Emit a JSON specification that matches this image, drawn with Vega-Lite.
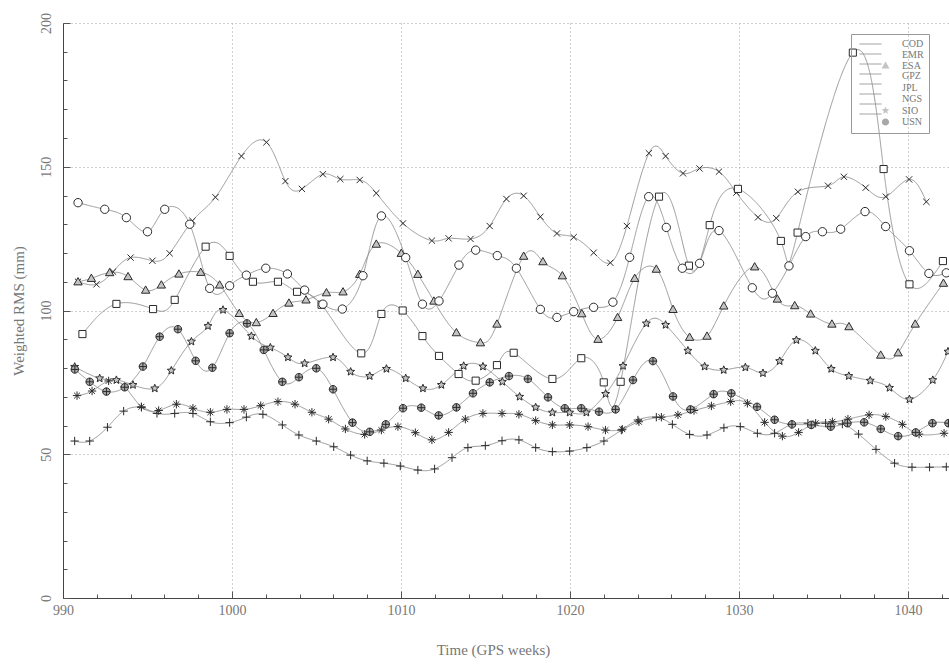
{
"$schema": "https://vega.github.io/schema/vega-lite/v6.json",
"width": 886, "height": 575,
"autosize": {"type": "none"},
"padding": {"left": 63, "top": 23, "right": 0, "bottom": 68},
"background": "white",
"config": {"view": {"stroke": null}, "font": "Liberation Serif"},
"datasets": {
"d": [
{"s":"COD","w":990.69,"v":54.6},{"s":"COD","w":991.58,"v":54.6},{"s":"COD","w":992.63,"v":59.4},{"s":"COD","w":993.59,"v":65.0},{"s":"COD","w":994.64,"v":66.3},{"s":"COD","w":995.56,"v":64.2},{"s":"COD","w":996.61,"v":64.2},{"s":"COD","w":997.69,"v":64.2},{"s":"COD","w":998.72,"v":61.3},{"s":"COD","w":999.86,"v":61.0},{"s":"COD","w":1000.85,"v":62.9},{"s":"COD","w":1001.83,"v":63.9},{"s":"COD","w":1002.98,"v":60.2},{"s":"COD","w":1003.96,"v":56.7},{"s":"COD","w":1004.99,"v":54.6},{"s":"COD","w":1006.02,"v":52.6},{"s":"COD","w":1007.02,"v":49.7},{"s":"COD","w":1008.0,"v":47.7},{"s":"COD","w":1008.99,"v":46.9},{"s":"COD","w":1009.96,"v":45.9},{"s":"COD","w":1011.0,"v":44.5},{"s":"COD","w":1011.99,"v":44.9},{"s":"COD","w":1013.02,"v":48.8},{"s":"COD","w":1013.96,"v":52.3},{"s":"COD","w":1014.99,"v":53.0},{"s":"COD","w":1015.98,"v":54.7},{"s":"COD","w":1016.98,"v":55.0},{"s":"COD","w":1017.97,"v":52.3},{"s":"COD","w":1018.96,"v":50.9},{"s":"COD","w":1019.98,"v":51.1},{"s":"COD","w":1021.0,"v":52.3},{"s":"COD","w":1022.01,"v":54.6},{"s":"COD","w":1023.04,"v":58.4},{"s":"COD","w":1024.02,"v":61.9},{"s":"COD","w":1025.11,"v":62.9},{"s":"COD","w":1026.06,"v":60.4},{"s":"COD","w":1027.08,"v":56.9},{"s":"COD","w":1028.11,"v":56.7},{"s":"COD","w":1029.11,"v":59.2},{"s":"COD","w":1030.08,"v":59.6},{"s":"COD","w":1031.09,"v":57.3},{"s":"COD","w":1032.11,"v":57.3},{"s":"COD","w":1033.1,"v":60.4},{"s":"COD","w":1034.08,"v":60.8},{"s":"COD","w":1035.13,"v":60.8},{"s":"COD","w":1036.12,"v":60.5},{"s":"COD","w":1037.08,"v":57.0},{"s":"COD","w":1038.11,"v":51.7},{"s":"COD","w":1039.21,"v":46.9},{"s":"COD","w":1040.24,"v":45.5},{"s":"COD","w":1041.28,"v":45.5},{"s":"COD","w":1042.27,"v":45.6},

{"s":"EMR","w":990.89,"v":110.0},{"s":"EMR","w":991.98,"v":109.1},{"s":"EMR","w":992.96,"v":113.5},{"s":"EMR","w":994.0,"v":118.4},{"s":"EMR","w":995.29,"v":117.3},{"s":"EMR","w":996.31,"v":119.9},{"s":"EMR","w":997.66,"v":131.2},{"s":"EMR","w":999.02,"v":139.4},{"s":"EMR","w":1000.56,"v":153.7},{"s":"EMR","w":1002.04,"v":158.5},{"s":"EMR","w":1003.16,"v":145.0},{"s":"EMR","w":1004.14,"v":142.3},{"s":"EMR","w":1005.38,"v":147.4},{"s":"EMR","w":1006.41,"v":145.7},{"s":"EMR","w":1007.56,"v":145.4},{"s":"EMR","w":1008.54,"v":140.8},{"s":"EMR","w":1010.12,"v":130.3},{"s":"EMR","w":1011.83,"v":124.3},{"s":"EMR","w":1012.82,"v":125.1},{"s":"EMR","w":1014.12,"v":124.9},{"s":"EMR","w":1015.25,"v":129.4},{"s":"EMR","w":1016.24,"v":138.8},{"s":"EMR","w":1017.26,"v":139.9},{"s":"EMR","w":1018.25,"v":132.6},{"s":"EMR","w":1019.23,"v":126.8},{"s":"EMR","w":1020.22,"v":125.5},{"s":"EMR","w":1021.4,"v":120.1},{"s":"EMR","w":1022.39,"v":116.6},{"s":"EMR","w":1023.37,"v":129.4},{"s":"EMR","w":1024.67,"v":154.7},{"s":"EMR","w":1025.66,"v":153.7},{"s":"EMR","w":1026.69,"v":147.7},{"s":"EMR","w":1027.67,"v":149.4},{"s":"EMR","w":1028.82,"v":148.3},{"s":"EMR","w":1029.85,"v":141.0},{"s":"EMR","w":1031.13,"v":132.4},{"s":"EMR","w":1032.21,"v":132.1},{"s":"EMR","w":1033.49,"v":141.3},{"s":"EMR","w":1035.27,"v":143.4},{"s":"EMR","w":1036.21,"v":146.5},{"s":"EMR","w":1037.5,"v":142.7},{"s":"EMR","w":1038.69,"v":139.6},{"s":"EMR","w":1040.07,"v":145.6},{"s":"EMR","w":1041.09,"v":137.8},

{"s":"ESA","w":990.89,"v":110.0},{"s":"ESA","w":991.68,"v":111.2},{"s":"ESA","w":992.76,"v":113.2},{"s":"ESA","w":993.85,"v":111.8},{"s":"ESA","w":994.89,"v":107.1},{"s":"ESA","w":995.82,"v":108.9},{"s":"ESA","w":996.86,"v":112.7},{"s":"ESA","w":998.15,"v":113.3},{"s":"ESA","w":999.27,"v":108.9},{"s":"ESA","w":1000.43,"v":99.0},{"s":"ESA","w":1001.44,"v":95.8},{"s":"ESA","w":1002.43,"v":99.0},{"s":"ESA","w":1003.37,"v":102.6},{"s":"ESA","w":1004.38,"v":103.7},{"s":"ESA","w":1005.59,"v":106.2},{"s":"ESA","w":1006.57,"v":106.5},{"s":"ESA","w":1007.56,"v":112.6},{"s":"ESA","w":1008.54,"v":123.1},{"s":"ESA","w":1010.02,"v":119.9},{"s":"ESA","w":1011.0,"v":112.6},{"s":"ESA","w":1011.95,"v":103.3},{"s":"ESA","w":1013.28,"v":92.3},{"s":"ESA","w":1014.7,"v":88.8},{"s":"ESA","w":1015.68,"v":95.3},{"s":"ESA","w":1017.26,"v":118.9},{"s":"ESA","w":1018.4,"v":117.0},{"s":"ESA","w":1019.55,"v":112.1},{"s":"ESA","w":1020.7,"v":98.9},{"s":"ESA","w":1021.66,"v":90.0},{"s":"ESA","w":1022.82,"v":97.6},{"s":"ESA","w":1023.83,"v":111.2},{"s":"ESA","w":1025.11,"v":114.4},{"s":"ESA","w":1026.1,"v":100.4},{"s":"ESA","w":1027.08,"v":90.7},{"s":"ESA","w":1028.11,"v":91.1},{"s":"ESA","w":1029.1,"v":101.6},{"s":"ESA","w":1030.93,"v":115.2},{"s":"ESA","w":1032.27,"v":104.0},{"s":"ESA","w":1033.3,"v":101.7},{"s":"ESA","w":1034.24,"v":98.8},{"s":"ESA","w":1035.5,"v":95.3},{"s":"ESA","w":1036.51,"v":94.4},{"s":"ESA","w":1038.39,"v":84.5},{"s":"ESA","w":1039.42,"v":85.3},{"s":"ESA","w":1040.43,"v":95.3},{"s":"ESA","w":1042.1,"v":109.5},

{"s":"GPZ","w":990.83,"v":70.4},{"s":"GPZ","w":991.72,"v":72.0},{"s":"GPZ","w":992.7,"v":75.5},{"s":"GPZ","w":993.65,"v":73.5},{"s":"GPZ","w":994.64,"v":66.5},{"s":"GPZ","w":995.66,"v":65.2},{"s":"GPZ","w":996.71,"v":67.4},{"s":"GPZ","w":997.69,"v":66.0},{"s":"GPZ","w":998.72,"v":64.6},{"s":"GPZ","w":999.7,"v":65.6},{"s":"GPZ","w":1000.71,"v":65.6},{"s":"GPZ","w":1001.7,"v":66.9},{"s":"GPZ","w":1002.72,"v":68.3},{"s":"GPZ","w":1003.73,"v":67.4},{"s":"GPZ","w":1004.73,"v":64.6},{"s":"GPZ","w":1005.72,"v":62.2},{"s":"GPZ","w":1006.71,"v":58.8},{"s":"GPZ","w":1007.85,"v":56.9},{"s":"GPZ","w":1008.84,"v":58.4},{"s":"GPZ","w":1009.82,"v":59.6},{"s":"GPZ","w":1010.85,"v":57.5},{"s":"GPZ","w":1011.83,"v":55.0},{"s":"GPZ","w":1012.82,"v":57.6},{"s":"GPZ","w":1013.81,"v":62.2},{"s":"GPZ","w":1014.85,"v":64.2},{"s":"GPZ","w":1015.98,"v":64.2},{"s":"GPZ","w":1016.98,"v":63.9},{"s":"GPZ","w":1017.97,"v":61.7},{"s":"GPZ","w":1018.96,"v":60.2},{"s":"GPZ","w":1019.98,"v":60.2},{"s":"GPZ","w":1021.07,"v":59.6},{"s":"GPZ","w":1022.1,"v":58.4},{"s":"GPZ","w":1023.1,"v":58.7},{"s":"GPZ","w":1024.08,"v":61.3},{"s":"GPZ","w":1025.41,"v":62.9},{"s":"GPZ","w":1026.39,"v":63.7},{"s":"GPZ","w":1027.34,"v":65.2},{"s":"GPZ","w":1028.37,"v":66.8},{"s":"GPZ","w":1029.51,"v":68.3},{"s":"GPZ","w":1030.5,"v":67.7},{"s":"GPZ","w":1031.52,"v":61.1},{"s":"GPZ","w":1032.57,"v":56.3},{"s":"GPZ","w":1033.53,"v":57.6},{"s":"GPZ","w":1034.54,"v":60.8},{"s":"GPZ","w":1035.53,"v":61.3},{"s":"GPZ","w":1036.45,"v":62.2},{"s":"GPZ","w":1037.7,"v":63.7},{"s":"GPZ","w":1038.69,"v":63.1},{"s":"GPZ","w":1039.67,"v":60.4},{"s":"GPZ","w":1040.66,"v":57.0},{"s":"GPZ","w":1042.14,"v":57.3},

{"s":"JPL","w":991.15,"v":91.8},{"s":"JPL","w":993.16,"v":102.3},{"s":"JPL","w":995.33,"v":100.5},{"s":"JPL","w":996.61,"v":103.7},{"s":"JPL","w":998.44,"v":122.2},{"s":"JPL","w":999.86,"v":119.0},{"s":"JPL","w":1001.24,"v":110.0},{"s":"JPL","w":1002.72,"v":110.0},{"s":"JPL","w":1003.85,"v":106.5},{"s":"JPL","w":1005.3,"v":102.0},{"s":"JPL","w":1007.65,"v":85.1},{"s":"JPL","w":1008.84,"v":98.8},{"s":"JPL","w":1010.1,"v":100.0},{"s":"JPL","w":1011.27,"v":91.1},{"s":"JPL","w":1012.25,"v":84.2},{"s":"JPL","w":1013.41,"v":77.9},{"s":"JPL","w":1014.42,"v":75.6},{"s":"JPL","w":1015.68,"v":81.0},{"s":"JPL","w":1016.67,"v":85.3},{"s":"JPL","w":1018.96,"v":76.2},{"s":"JPL","w":1020.67,"v":83.4},{"s":"JPL","w":1022.0,"v":75.0},{"s":"JPL","w":1023.0,"v":75.2},{"s":"JPL","w":1025.27,"v":139.6},{"s":"JPL","w":1027.04,"v":115.6},{"s":"JPL","w":1028.27,"v":129.7},{"s":"JPL","w":1029.94,"v":142.3},{"s":"JPL","w":1032.48,"v":124.2},{"s":"JPL","w":1033.47,"v":127.1},{"s":"JPL","w":1036.74,"v":189.7},{"s":"JPL","w":1038.56,"v":149.2},{"s":"JPL","w":1040.09,"v":109.1},{"s":"JPL","w":1042.07,"v":117.2},

{"s":"NGS","w":990.89,"v":137.5},{"s":"NGS","w":992.47,"v":135.2},{"s":"NGS","w":993.75,"v":132.3},{"s":"NGS","w":995.0,"v":127.4},{"s":"NGS","w":996.02,"v":135.2},{"s":"NGS","w":997.5,"v":130.0},{"s":"NGS","w":998.68,"v":107.7},{"s":"NGS","w":999.86,"v":108.6},{"s":"NGS","w":1000.85,"v":112.3},{"s":"NGS","w":1002.0,"v":114.7},{"s":"NGS","w":1003.28,"v":112.7},{"s":"NGS","w":1004.3,"v":107.1},{"s":"NGS","w":1005.38,"v":102.2},{"s":"NGS","w":1006.53,"v":100.5},{"s":"NGS","w":1007.75,"v":112.1},{"s":"NGS","w":1008.84,"v":132.9},{"s":"NGS","w":1010.28,"v":118.4},{"s":"NGS","w":1011.27,"v":102.2},{"s":"NGS","w":1012.25,"v":103.3},{"s":"NGS","w":1013.43,"v":115.8},{"s":"NGS","w":1014.42,"v":121.0},{"s":"NGS","w":1015.7,"v":119.1},{"s":"NGS","w":1016.83,"v":114.7},{"s":"NGS","w":1018.25,"v":100.4},{"s":"NGS","w":1019.23,"v":97.6},{"s":"NGS","w":1020.22,"v":99.6},{"s":"NGS","w":1021.4,"v":101.1},{"s":"NGS","w":1022.54,"v":102.9},{"s":"NGS","w":1023.53,"v":118.5},{"s":"NGS","w":1024.66,"v":139.6},{"s":"NGS","w":1025.7,"v":128.9},{"s":"NGS","w":1026.65,"v":114.7},{"s":"NGS","w":1027.67,"v":116.4},{"s":"NGS","w":1028.82,"v":127.8},{"s":"NGS","w":1030.79,"v":107.9},{"s":"NGS","w":1031.98,"v":106.0},{"s":"NGS","w":1032.96,"v":115.5},{"s":"NGS","w":1033.95,"v":125.7},{"s":"NGS","w":1034.94,"v":127.4},{"s":"NGS","w":1036.02,"v":128.3},{"s":"NGS","w":1037.46,"v":134.4},{"s":"NGS","w":1038.68,"v":129.2},{"s":"NGS","w":1040.09,"v":120.8},{"s":"NGS","w":1041.24,"v":112.9},{"s":"NGS","w":1042.27,"v":113.1},

{"s":"SIO","w":990.69,"v":80.4},{"s":"SIO","w":992.17,"v":76.4},{"s":"SIO","w":993.16,"v":75.8},{"s":"SIO","w":994.14,"v":74.1},{"s":"SIO","w":995.43,"v":72.9},{"s":"SIO","w":996.41,"v":79.1},{"s":"SIO","w":997.6,"v":89.2},{"s":"SIO","w":998.58,"v":94.6},{"s":"SIO","w":999.47,"v":100.2},{"s":"SIO","w":1001.15,"v":91.1},{"s":"SIO","w":1002.27,"v":87.1},{"s":"SIO","w":1003.31,"v":83.7},{"s":"SIO","w":1004.3,"v":81.6},{"s":"SIO","w":1005.98,"v":83.7},{"s":"SIO","w":1007.02,"v":78.7},{"s":"SIO","w":1008.15,"v":77.2},{"s":"SIO","w":1009.14,"v":79.7},{"s":"SIO","w":1010.28,"v":76.4},{"s":"SIO","w":1011.3,"v":72.9},{"s":"SIO","w":1012.39,"v":74.1},{"s":"SIO","w":1013.71,"v":80.7},{"s":"SIO","w":1014.85,"v":80.5},{"s":"SIO","w":1016.0,"v":75.2},{"s":"SIO","w":1017.02,"v":70.0},{"s":"SIO","w":1017.97,"v":66.3},{"s":"SIO","w":1018.96,"v":64.5},{"s":"SIO","w":1019.98,"v":64.5},{"s":"SIO","w":1020.97,"v":64.5},{"s":"SIO","w":1022.11,"v":71.0},{"s":"SIO","w":1023.14,"v":80.7},{"s":"SIO","w":1024.52,"v":95.5},{"s":"SIO","w":1025.66,"v":95.0},{"s":"SIO","w":1026.98,"v":86.0},{"s":"SIO","w":1027.97,"v":80.5},{"s":"SIO","w":1029.1,"v":79.3},{"s":"SIO","w":1030.38,"v":80.2},{"s":"SIO","w":1031.42,"v":78.2},{"s":"SIO","w":1032.41,"v":82.4},{"s":"SIO","w":1033.4,"v":89.7},{"s":"SIO","w":1034.52,"v":86.0},{"s":"SIO","w":1035.46,"v":79.7},{"s":"SIO","w":1036.5,"v":77.2},{"s":"SIO","w":1037.77,"v":75.6},{"s":"SIO","w":1038.91,"v":73.1},{"s":"SIO","w":1040.09,"v":69.1},{"s":"SIO","w":1041.47,"v":75.8},{"s":"SIO","w":1042.37,"v":85.7},

{"s":"USN","w":990.7,"v":79.5},{"s":"USN","w":991.58,"v":75.2},{"s":"USN","w":992.57,"v":71.8},{"s":"USN","w":993.65,"v":73.3},{"s":"USN","w":994.73,"v":80.5},{"s":"USN","w":995.72,"v":90.9},{"s":"USN","w":996.8,"v":93.5},{"s":"USN","w":997.85,"v":82.5},{"s":"USN","w":998.84,"v":80.1},{"s":"USN","w":999.86,"v":92.1},{"s":"USN","w":1000.89,"v":95.5},{"s":"USN","w":1001.88,"v":86.3},{"s":"USN","w":1002.98,"v":75.2},{"s":"USN","w":1003.96,"v":76.8},{"s":"USN","w":1004.99,"v":79.9},{"s":"USN","w":1005.98,"v":72.6},{"s":"USN","w":1007.13,"v":61.0},{"s":"USN","w":1008.15,"v":57.8},{"s":"USN","w":1009.1,"v":60.4},{"s":"USN","w":1010.12,"v":66.0},{"s":"USN","w":1011.2,"v":66.2},{"s":"USN","w":1012.23,"v":63.5},{"s":"USN","w":1013.28,"v":66.3},{"s":"USN","w":1014.26,"v":71.2},{"s":"USN","w":1015.25,"v":75.0},{"s":"USN","w":1016.39,"v":77.2},{"s":"USN","w":1017.51,"v":76.2},{"s":"USN","w":1018.7,"v":69.8},{"s":"USN","w":1019.69,"v":66.0},{"s":"USN","w":1020.67,"v":66.0},{"s":"USN","w":1021.72,"v":64.8},{"s":"USN","w":1022.7,"v":65.6},{"s":"USN","w":1023.73,"v":75.8},{"s":"USN","w":1024.91,"v":82.4},{"s":"USN","w":1026.1,"v":70.1},{"s":"USN","w":1027.13,"v":65.6},{"s":"USN","w":1028.5,"v":70.9},{"s":"USN","w":1029.55,"v":71.2},{"s":"USN","w":1031.07,"v":66.5},{"s":"USN","w":1032.11,"v":62.0},{"s":"USN","w":1033.14,"v":60.4},{"s":"USN","w":1034.28,"v":60.2},{"s":"USN","w":1035.43,"v":59.6},{"s":"USN","w":1036.42,"v":60.8},{"s":"USN","w":1037.41,"v":61.1},{"s":"USN","w":1038.39,"v":58.8},{"s":"USN","w":1039.42,"v":56.3},{"s":"USN","w":1040.46,"v":57.6},{"s":"USN","w":1041.45,"v":60.8},{"s":"USN","w":1042.4,"v":60.8}
]
},
"data": {"name": "d"},
"encoding": {
  "x": {"field": "w", "type": "quantitative",
    "scale": {"domain": [990, 1042.43], "nice": false, "zero": false},
    "axis": {
      "values": [990,992,994,996,998,1000,1002,1004,1006,1008,1010,1012,1014,1016,1018,1020,1022,1024,1026,1028,1030,1032,1034,1036,1038,1040,1042],
      "format": "d",
      "labelExpr": "datum.value % 10 === 0 ? datum.label : ''",
      "labelOverlap": false, "labelFlush": false,
      "grid": true, "gridDash": [1, 3], "gridWidth": 1,
      "gridColor": {"condition": {"test": "datum.value % 10 === 0 && datum.value > 990", "value": "#a0a0a0"}, "value": "transparent"},
      "tickSize": {"condition": {"test": "datum.value % 10 === 0", "value": -7}, "value": -4},
      "tickColor": "#555", "domainColor": "#444", "domainWidth": 1,
      "labelFont": "Liberation Serif", "labelFontSize": 14, "labelColor": "#777", "labelPadding": 12,
      "title": "Time (GPS weeks)", "titleFont": "Liberation Serif", "titleFontSize": 15, "titleFontWeight": "normal", "titleColor": "#777", "titlePadding": 22, "titleX": 430
    }
  },
  "y": {"field": "v", "type": "quantitative",
    "scale": {"domain": [0, 200], "nice": false},
    "axis": {
      "values": [0,10,20,30,40,50,60,70,80,90,100,110,120,130,140,150,160,170,180,190,200],
      "format": "d",
      "labelExpr": "datum.value % 50 === 0 ? datum.label : ''",
      "labelOverlap": false, "labelFlush": false,
      "labelAngle": 270, "labelAlign": "center", "labelBaseline": "bottom",
      "grid": true, "gridDash": [1, 3], "gridWidth": 1,
      "gridColor": {"condition": {"test": "datum.value % 50 === 0 && datum.value > 0", "value": "#a0a0a0"}, "value": "transparent"},
      "tickSize": {"condition": {"test": "datum.value % 50 === 0", "value": -7}, "value": -4},
      "tickColor": "#555", "domainColor": "#444", "domainWidth": 1,
      "labelFont": "Liberation Serif", "labelFontSize": 14, "labelColor": "#777", "labelPadding": 17,
      "title": "Weighted RMS (mm)", "titleFont": "Liberation Serif", "titleFontSize": 15, "titleFontWeight": "normal", "titleColor": "#777", "titlePadding": 10
    }
  }
},
"layer": [
  {"mark": {"type": "line", "interpolate": "natural", "stroke": "#8f8f8f", "strokeWidth": 0.9, "clip": true},
   "encoding": {
     "detail": {"field": "s", "type": "nominal"},
     "strokeDash": {"field": "s", "type": "nominal",
       "scale": {"domain": ["USN","SIO","NGS","JPL","GPZ","ESA","EMR","COD"], "range": [[1,0],[1,0],[1,0],[1,0],[1,0],[1,0],[1,0],[1,0]]},
       "legend": {"title": null, "orient": "none", "legendX": 788, "legendY": 11, "padding": 5,
         "symbolType": "M-6.5,0L-1,0", "symbolSize": 64, "symbolStrokeWidth": 0.9, "symbolStrokeColor": "#8f8f8f",
         "symbolOffset": 24.5, "labelOffset": 11.5,
         "labelFont": "Liberation Serif", "labelFontSize": 10, "labelExpr": "''",
         "rowPadding": -0.5}
     }
   }},
  {"mark": {"type": "point", "filled": false, "stroke": "#2b2b2b", "strokeWidth": 1, "size": 70, "opacity": 1, "clip": true},
   "encoding": {
     "shape": {"field": "s", "type": "nominal",
       "scale": {"domain": ["COD","EMR","ESA","GPZ","JPL","NGS","SIO","USN"],
         "range": ["M-1,0L1,0M0,-1L0,1",
                   "M-0.75,-0.75L0.75,0.75M-0.75,0.75L0.75,-0.75",
                   "M0,-1L1,0.75L-1,0.75Z",
                   "M-1,0L1,0M0,-1L0,1M-0.7,-0.7L0.7,0.7M-0.7,0.7L0.7,-0.7",
                   "M-0.85,-0.85L0.85,-0.85L0.85,0.85L-0.85,0.85Z",
                   "M-1,0A1,1,0,1,0,1,0A1,1,0,1,0,-1,0Z",
                   "M0,-1L0.265,-0.364L0.951,-0.309L0.428,0.139L0.588,0.809L0,0.45L-0.588,0.809L-0.428,0.139L-0.951,-0.309L-0.265,-0.364Z",
                   "M-0.9,0A0.9,0.9,0,1,0,0.9,0A0.9,0.9,0,1,0,-0.9,0ZM-0.9,0L0.9,0M0,-0.9L0,0.9"]},
       "legend": {"title": null, "orient": "none", "legendX": 788, "legendY": 11, "padding": 5,
         "symbolSize": 64, "symbolStrokeWidth": 1, "symbolStrokeColor": "#2b2b2b",
         "symbolOffset": 24.5, "labelOffset": 11.5,
         "labelFont": "Liberation Serif", "labelFontSize": 10, "labelColor": "#777",
         "rowPadding": -0.5, "strokeColor": "#999",
         "encode": {
           "legend": {"strokeDash": {"value": [1, 2]}},
           "symbols": {
             "stroke": {"value": "#2b2b2b"}, "strokeWidth": {"value": 1},
             "fill": {"condition": [
               {"test": "datum.value === 'ESA' || datum.value === 'SIO'", "value": "#c4c4c4"},
               {"test": "datum.value === 'GPZ'", "value": "#2b2b2b"},
               {"test": "datum.value === 'USN'", "value": "#a8a8a8"},
               {"test": "datum.value === 'JPL' || datum.value === 'NGS'", "value": "white"}
             ], "value": "transparent"}
           }
         }
       }
     },
     "fill": {"field": "s", "type": "nominal",
       "scale": {"domain": ["COD","EMR","ESA","GPZ","JPL","NGS","SIO","USN"],
         "range": ["transparent","transparent","#c4c4c4","#2b2b2b","white","white","#c4c4c4","#a8a8a8"]},
       "legend": null
     }
   }
  }
]
}
